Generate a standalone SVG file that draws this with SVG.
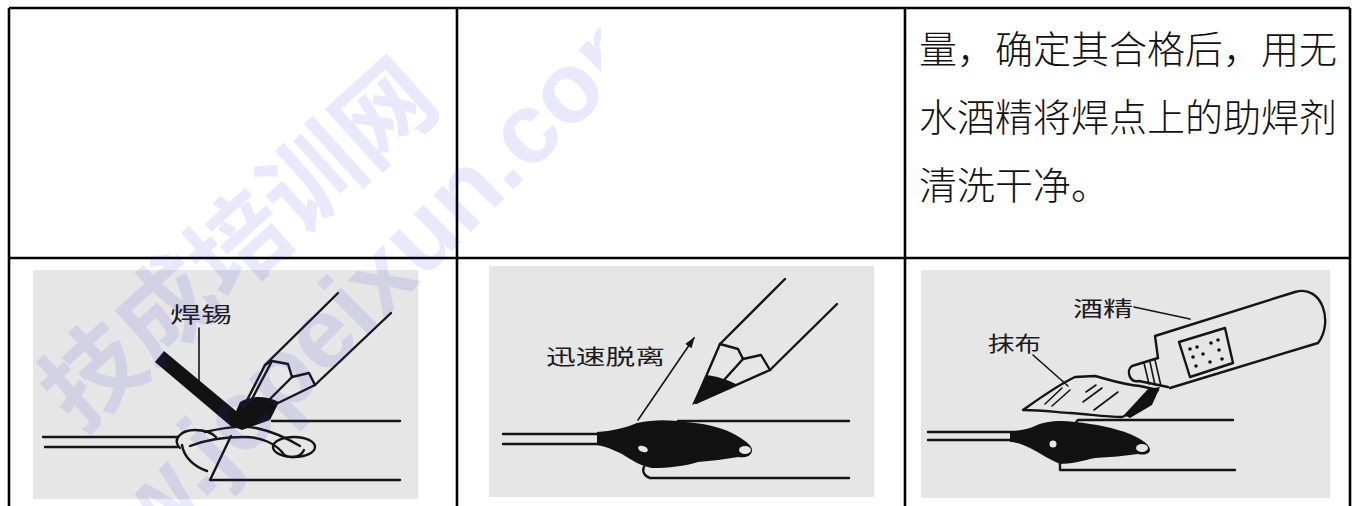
<svg xmlns="http://www.w3.org/2000/svg" width="1354" height="506" viewBox="0 0 1354 506">
  <defs>
    <style>
      .grid{stroke:#000;stroke-width:2.6;fill:none}
      .body{font-family:"Noto Sans CJK SC","Noto Sans CJK TC",sans-serif;font-size:38px;font-weight:300;fill:#111}
      .photo{fill:#e6e6e6}
      .ink{stroke:#151515;stroke-width:2.4;fill:none;stroke-linecap:round;stroke-linejoin:round}
      .thin{stroke:#151515;stroke-width:1.6;fill:none;stroke-linecap:round}
      .solid{fill:#121212}
      .label{font-family:"Noto Sans CJK SC",sans-serif;font-size:21px;fill:#1c1c1c}
      .wm{fill:#3a3ad8;fill-opacity:0.11;font-weight:700}
    </style>
    <marker id="arrowhead" viewBox="0 0 10 10" refX="9" refY="5" markerWidth="11" markerHeight="11" markerUnits="userSpaceOnUse" orient="auto">
      <path d="M0,1.5 L10,5 L0,8.5 Z" fill="#151515"/>
    </marker>
    <clipPath id="wmclip">
      <rect x="0" y="0" width="601" height="506"/>
    </clipPath>
  </defs>

  <rect x="0" y="0" width="1354" height="506" fill="#fff"/>

  <!-- table grid -->
  <g id="table" class="grid">
    <path d="M9,8 H1350"/>
    <path d="M9,258 H1350"/>
    <path d="M9,8 V506"/>
    <path d="M457,8 V506"/>
    <path d="M905,8 V506"/>
    <path d="M1350,8 V506"/>
  </g>

  <!-- text cell, top right -->
  <g id="cell-text" class="body">
    <text x="919" y="63">量，确定其合格后，用无</text>
    <text x="919" y="131">水酒精将焊点上的助焊剂</text>
    <text x="919" y="199">清洗干净。</text>
  </g>

  <!-- step 1: feeding solder to the joint -->
  <g id="cell-solder">
    <rect class="photo" x="33" y="270" width="385" height="229"/>
    <text class="label" x="170" y="322" textLength="62" lengthAdjust="spacingAndGlyphs">焊锡</text>
    <path class="thin" d="M199,328 V389"/>
    <polygon class="solid" points="155,362 164,351 242,416 233,428"/>
    <!-- iron -->
    <path class="ink" d="M338,293 L265,365 M391,313 L315,385"/>
    <path class="ink" d="M265,365 L272,361 L288,364 L292,377 L309,373 L315,385"/>
    <path class="ink" d="M265,365 L240,414 M315,385 L276,404 M272,361 L252,399 M292,377 L268,401"/>
    <path class="solid" d="M240,402 C252,395 266,396 279,402 L270,420 L242,430 L230,425 Z"/>
    <!-- board -->
    <path class="ink" d="M272,421 H400 M210,480 H400 M210,480 L231,436"/>
    <!-- lead wire and wrap -->
    <path class="ink" d="M43,437 H178 M45,447 H178"/>
    <path class="ink" d="M180,448 C172,440 180,430 195,430 C205,430 212,433 216,437"/>
    <path class="ink" d="M182,445 C184,458 195,467 207,471"/>
    <path class="ink" d="M205,432 C222,428 240,425 256,428 C275,432 290,440 300,446"/>
    <path class="ink" d="M190,446 C205,440 225,437 245,437 C262,437 275,444 282,452"/>
    <ellipse class="ink" cx="294" cy="447" rx="21" ry="10"/>
    <path class="ink" d="M282,452 C286,459 300,459 304,450"/>
  </g>

  <!-- step 2: lifting the iron away -->
  <g id="cell-remove">
    <rect class="photo" x="489" y="266" width="385" height="231"/>
    <text class="label" x="546" y="364" textLength="119" lengthAdjust="spacingAndGlyphs">迅速脱离</text>
    <path class="thin" d="M638,420 L694,338" marker-end="url(#arrowhead)"/>
    <!-- iron -->
    <path class="ink" d="M785,279 L720,344 M837,304 L770,370"/>
    <path class="ink" d="M720,344 L738,349 L743,359 L761,355 L770,370"/>
    <path class="ink" d="M720,344 L695,402 M770,370 L696,403 M743,359 L724,380"/>
    <path class="solid" d="M692,405 L706,375 C716,376 726,379 738,385 Z"/>
    <!-- board -->
    <path class="ink" d="M678,421 H849 M678,421 C675,424 674,428 676,431"/>
    <path class="ink" d="M650,478 H849 M650,478 C644,476 642,471 644,467"/>
    <!-- lead wire and solder joint -->
    <path class="ink" d="M503,434 H600 M503,444 H600"/>
    <path class="solid" d="M597,432 C612,431 625,428 637,423 C655,419 672,420 685,422 C700,423 718,426 732,433 C745,440 753,446 752,451 C751,457 744,458 738,457 C725,459 712,461 698,462 C685,466 668,468 652,468 C640,466 630,459 622,454 C612,449 604,446 597,445 Z"/>
    <ellipse cx="643" cy="449" rx="5" ry="3" fill="#e6e6e6" transform="rotate(20 643 449)"/>
    <ellipse cx="745" cy="450" rx="6" ry="4" fill="#e6e6e6"/>
  </g>

  <!-- step 3: cleaning with alcohol -->
  <g id="cell-clean">
    <rect class="photo" x="921" y="270" width="409" height="228"/>
    <text class="label" x="1073" y="316" textLength="60" lengthAdjust="spacingAndGlyphs">酒精</text>
    <text class="label" x="988" y="351" textLength="53" lengthAdjust="spacingAndGlyphs">抹布</text>
    <path class="thin" d="M1134,307 L1190,319 M1033,355 L1068,386"/>
    <!-- bottle -->
    <path class="ink" d="M1158,358 L1155,336 L1295,292 C1322,284 1334,322 1318,343 L1170,388"/>
    <path class="ink" d="M1158,358 L1132,366 M1168,387 L1139,381 M1132,366 C1126,370 1129,383 1139,381"/>
    <path class="thin" d="M1144,363 L1149,384 M1150,362 L1155,385 M1155,360 L1161,386"/>
    <polygon class="ink" points="1179,342 1225,328 1233,363 1190,377"/>
    <g class="solid">
      <circle cx="1190" cy="349" r="1.8"/>
      <circle cx="1197" cy="347" r="1.8"/>
      <circle cx="1211" cy="343" r="1.8"/>
      <circle cx="1218" cy="340" r="1.8"/>
      <circle cx="1193" cy="357" r="1.8"/>
      <circle cx="1203" cy="354" r="1.8"/>
      <circle cx="1219" cy="350" r="1.8"/>
      <circle cx="1196" cy="366" r="1.8"/>
      <circle cx="1210" cy="362" r="1.8"/>
      <circle cx="1222" cy="359" r="1.8"/>
    </g>
    <!-- cloth -->
    <path class="ink" d="M1023,410 C1040,398 1058,385 1075,377 L1095,376 C1110,380 1125,385 1140,386 L1158,390 C1150,400 1135,412 1122,417 C1105,417 1088,414 1070,413 C1055,412 1040,410 1023,410 Z"/>
    <path class="solid" d="M1148,389 L1160,387 L1152,405 L1130,418 L1124,415 Z"/>
    <path class="thin" d="M1045,404 L1062,388 M1052,406 L1070,390 M1086,392 L1096,385 M1083,402 L1102,388 M1094,410 L1118,392"/>
    <!-- board -->
    <path class="ink" d="M1078,420 H1233 M1078,420 C1075,422 1075,426 1077,428"/>
    <path class="ink" d="M1060,470 H1235 M1060,470 L1060,461"/>
    <!-- lead wire and cleaned joint -->
    <path class="ink" d="M928,432 H1012 M928,440 H1012"/>
    <path class="solid" d="M1010,431 C1020,431 1028,429 1035,426 C1045,421 1060,420 1075,422 C1095,424 1115,428 1130,434 C1142,439 1150,445 1150,450 C1149,455 1143,455 1138,454 C1125,456 1110,457 1095,458 C1082,461 1070,464 1060,464 C1050,460 1040,453 1030,448 C1022,444 1015,442 1010,442 Z"/>
    <circle cx="1053" cy="444" r="3.5" fill="#e6e6e6"/>
    <ellipse cx="1142" cy="448" rx="6" ry="4" fill="#e6e6e6"/>
  </g>

  <!-- faint diagonal site mark -->
  <g id="watermark" class="wm" clip-path="url(#wmclip)">
    <text font-family="'Noto Sans CJK SC',sans-serif" font-size="98" transform="translate(80,434) rotate(-42)">技成培训网</text>
    <text font-family="'Liberation Sans',Arial,sans-serif" font-size="100" transform="translate(40,663) rotate(-45)">www.jcpeixun.com</text>
  </g>
</svg>
